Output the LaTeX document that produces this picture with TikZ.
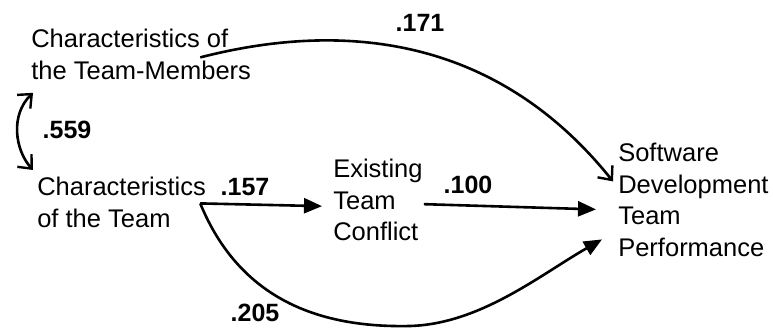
\documentclass[tikz,border=0pt]{standalone}
\usepackage{fontspec}
\setmainfont{Liberation Sans}
\usetikzlibrary{arrows}
\usepgflibrary{arrows.meta}

\begin{document}
\begin{tikzpicture}
    [x=1pt, y=-1pt,
    line width=2.6pt,
    var/.style={inner sep=0pt, anchor=north west, align=left, font=\fontsize{25.5}{31.5}\selectfont},
    coef/.style={inner sep=0pt, font=\fontsize{25}{28}\selectfont\bfseries},
    open/.style={-{Straight Barb[length=11pt, width=19pt, line width=2.4pt]}},
    both/.style={{Straight Barb[length=11pt, width=19pt, line width=2.4pt]}-{Straight Barb[length=11pt, width=19pt, line width=2.4pt]}},
    solid/.style={-{Triangle[length=18pt, width=15pt]}}]
        \useasboundingbox (0,0) rectangle (773,328);

        %% Variables
        \node[var] (members) at (30,28) {Characteristics of\\the Team-Members};
        \node[var] (team) at (36,176) {Characteristics\\of the Team};
        \node[var] (conflict) at (332,158) {Existing\\Team\\Conflict};
        \node[var] (perf) at (617,142) {Software\\Development\\Team\\Performance};

        %% Paths
        \draw[both] ([shift={(3,12)}]members.south west) .. controls (10,115) and (15,150) .. ([shift={(-3,-6)}]team.north west);
        \draw[open] ([shift={(-52,3)}]members.east) .. controls (330,24) and (490,28) .. ([shift={(-4,-18.5)}]perf.west);
        \draw[solid] ([shift={(-7,1)}]team.east) -- ([shift={(-10,6)}]conflict.west);
        \draw[solid] ([shift={(0,4)}]conflict.east) -- ([shift={(-21,9.5)}]perf.west);
        \draw[solid] ([shift={(-7,1)}]team.east) .. controls (240,300) and (320,328) .. (410,326)
            .. controls (480,324) and (540,275) .. ([shift={(-15,39.5)}]perf.west);

        %% Coefficients
        \node[coef] (c171) at (420,23) {.171};
        \node[coef] (c559) at (67,130) {.559};
        \node[coef] (c157) at (245,187) {.157};
        \node[coef] (c100) at (468,185) {.100};
        \node[coef] (c205) at (255,313) {.205};
\end{tikzpicture}
\end{document}
